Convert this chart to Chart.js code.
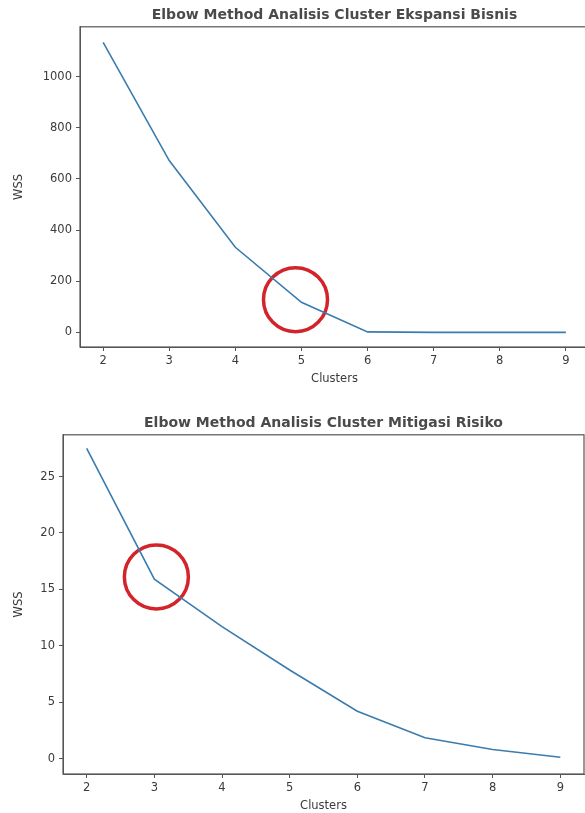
<!DOCTYPE html>
<html>
<head>
<meta charset="utf-8">
<script src="https://cdn.jsdelivr.net/npm/chart.js@4/dist/chart.umd.min.js"></script>
<style>
    body { margin: 0; background: #fff; width: 585px; height: 813px; overflow: hidden; position: relative; }
    canvas { position: absolute; left: 0; }
    #chartTop { top: 0; }
    #chartBottom { top: 400px; }
</style>
</head>
<body>
<canvas id="chartTop" width="590" height="400"></canvas>
<canvas id="chartBottom" width="585" height="413"></canvas>
<script>
const clusters = [2, 3, 4, 5, 6, 7, 8, 9];
const wssEkspansi = [1134, 672, 333, 118, 2, 0, 0, 0];
const wssMitigasi = [27.5, 15.9, 11.7, 7.85, 4.2, 1.84, 0.8, 0.12];
// marked elbow (x, y) for the red circle
const elbowEkspansi = [4.91, 128];
const elbowMitigasi = [3.03, 16.1];

const ink = '#3a3a3a';
const lineBlue = '#3b7cae';
const font = { family: 'DejaVu Sans', size: 11.5 };

// draw the full box round the plot like matplotlib spines
const frame = {
    id: 'frame',
    afterDraw(chart) {
        const { ctx, chartArea: a } = chart;
        ctx.save();
        ctx.strokeStyle = '#555';
        ctx.lineWidth = 1.2;
        ctx.strokeRect(a.left, a.top, a.right - a.left, a.bottom - a.top);
        ctx.restore();
    }
};

function makeChart(id, title, values, elbow, yMin, yMax, yStep, plotLeft, padTop, padBottom) {
    const points = clusters.map((c, i) => ({ x: c, y: values[i] }));
    const padLeft = 12;
    return new Chart(document.getElementById(id), {
        type: 'scatter',
        data: {
            datasets: [
                {
                    data: points,
                    showLine: true,
                    borderColor: lineBlue,
                    borderWidth: 1.6,
                    pointRadius: 0,
                    tension: 0
                },
                {
                    data: [{ x: elbow[0], y: elbow[1] }],
                    pointRadius: 32,
                    pointBorderWidth: 3.5,
                    pointBorderColor: '#d3232b',
                    pointBackgroundColor: 'rgba(0,0,0,0)'
                }
            ]
        },
        options: {
            responsive: false,
            animation: false,
            layout: { autoPadding: false, padding: { top: 0, right: 1, left: padLeft, bottom: padBottom } },
            plugins: {
                legend: { display: false },
                tooltip: { enabled: false },
                title: {
                    display: true,
                    text: title,
                    fullSize: false,
                    color: '#4a4a4a',
                    font: { family: 'DejaVu Sans', size: 14, weight: 'bold' },
                    padding: { top: padTop, bottom: 3 }
                }
            },
            scales: {
                x: {
                    type: 'linear',
                    min: 1.65,
                    max: 9.35,
                    ticks: { stepSize: 1, includeBounds: false, color: ink, font: font, padding: 3 },
                    grid: { drawOnChartArea: false, drawTicks: true, tickLength: 4, color: '#555' },
                    border: { display: true, color: '#555' },
                    title: { display: true, text: 'Clusters', color: ink, font: font, padding: { top: 0, bottom: 0 } },
                    afterFit: s => { s.height = 39; }
                },
                y: {
                    min: yMin,
                    max: yMax,
                    ticks: {
                        stepSize: yStep, includeBounds: false, color: ink, font: font, padding: 4,
                        callback: v => String(v)
                    },
                    grid: { drawOnChartArea: false, drawTicks: true, tickLength: 4, color: '#555' },
                    border: { display: true, color: '#555' },
                    title: { display: true, text: 'WSS', color: ink, font: font, padding: { top: 0, bottom: 2 } },
                    afterFit: s => { s.width = plotLeft - padLeft; }
                }
            }
        },
        plugins: [frame]
    });
}

makeChart('chartTop', 'Elbow Method Analisis Cluster Ekspansi Bisnis',
    wssEkspansi, elbowEkspansi, -57, 1195, 200, 80, 7, 14);
makeChart('chartBottom', 'Elbow Method Analisis Cluster Mitigasi Risiko',
    wssMitigasi, elbowMitigasi, -1.37, 28.7, 5, 63, 15, 0);
</script>
</body>
</html>
